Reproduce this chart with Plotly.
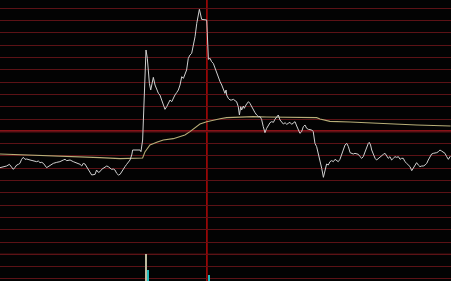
import plotly.graph_objects as go

# ---- data ----
prev_close = 10.00
grid_step = 0.0369          # price step between horizontal grid lines
cursor_minute = 110.1       # crosshair position (minutes since open)

minutes = [
    0.0, 1.8, 3.5, 5.0, 6.2, 7.1, 8.0, 8.9, 9.8, 10.6, 11.5, 12.4, 13.3, 14.2, 16.0, 17.7, 19.5, 20.4,
    21.3, 22.2, 23.1, 24.8, 25.7, 26.6, 28.4, 30.2, 31.9, 33.7, 34.6, 35.5, 37.3, 39.0, 40.8, 42.6,
    43.5, 44.3, 45.2, 46.1, 47.0, 47.9, 48.8, 50.6, 51.4, 52.3, 53.2, 54.1, 55.0, 55.9, 56.8, 57.6,
    58.5, 59.4, 60.3, 61.2, 62.1, 63.0, 63.9, 64.7, 65.6, 66.5, 67.4, 68.3, 69.2, 70.1, 70.6, 74.5,
    75.0, 75.9, 76.6, 77.2, 77.7,
    78.4, 78.9, 79.5, 80.2, 81.1, 81.6, 82.5, 83.4, 84.3, 85.1, 86.0, 86.9, 87.8, 88.7, 89.6, 90.5,
    91.4, 92.2, 93.1, 94.0, 94.9, 95.8, 96.7, 97.6, 98.4, 99.3, 100.2, 101.1, 102.0, 102.9, 103.8,
    104.7, 105.5, 106.1, 106.8, 107.3, 110.0, 110.3, 110.9, 111.8, 112.6, 113.5, 114.4, 115.3, 116.2,
    117.1, 118.0, 118.8, 119.7, 120.3, 120.6, 121.5, 122.4, 123.3, 124.2, 125.1, 125.9, 126.8, 127.4,
    128.1, 128.6, 129.5, 130.0, 130.9, 132.2, 133.0, 133.9, 134.8, 135.7, 136.6, 137.5, 138.4, 139.2,
    140.1, 141.0, 141.9, 142.8, 143.7, 144.6, 145.5, 146.3, 147.2, 148.1, 149.0, 149.9, 150.8, 151.7,
    152.6, 153.4, 154.3, 155.2, 156.1, 157.0, 157.9, 158.8, 159.6, 160.5, 161.4, 162.3, 163.2, 164.1,
    165.0, 165.9, 166.7, 167.6, 168.5, 169.4, 170.3, 171.2, 172.1, 172.9, 173.8, 174.7, 175.6, 176.5,
    177.4, 178.3, 179.2, 180.0, 180.9, 181.8, 182.7, 183.6, 184.5, 185.4, 186.3, 187.1, 188.0, 188.9,
    189.8, 190.7, 191.6, 192.5, 193.3, 194.2, 195.1, 196.0, 196.5, 197.2, 197.8, 198.7, 199.6, 200.4,
    201.3, 202.2, 203.1, 204.0, 204.9, 205.8, 206.6, 207.5, 208.4, 209.3, 210.2, 211.1, 212.0, 212.9,
    213.7, 214.6, 215.5, 216.4, 217.3, 218.2, 219.1, 220.0, 220.8, 221.7, 222.6, 223.5, 224.4, 225.3,
    226.2, 227.1, 227.9, 228.8, 229.7, 230.6, 231.5, 232.4, 233.3, 234.1, 235.0, 235.9, 236.8, 237.7,
    238.6, 239.5, 239.8,
]

price = [
    9.891, 9.894, 9.896, 9.901, 9.894, 9.886, 9.892, 9.899, 9.901, 9.904, 9.916, 9.922, 9.916, 9.917,
    9.914, 9.911, 9.909, 9.911, 9.906, 9.907, 9.904, 9.891, 9.894, 9.899, 9.904, 9.907, 9.909, 9.914,
    9.916, 9.912, 9.914, 9.909, 9.904, 9.901, 9.896, 9.904, 9.902, 9.894, 9.884, 9.874, 9.869, 9.871,
    9.884, 9.877, 9.879, 9.886, 9.889, 9.894, 9.896, 9.894, 9.889, 9.886, 9.887, 9.884, 9.874, 9.869,
    9.871, 9.879, 9.886, 9.894, 9.901, 9.906, 9.914, 9.929, 9.944, 9.944, 9.939, 9.974, 10.094, 10.214,
    10.244,
    10.219, 10.184, 10.144, 10.124, 10.154, 10.162, 10.139, 10.124, 10.114, 10.109, 10.094, 10.079,
    10.066, 10.074, 10.084, 10.094, 10.089, 10.099, 10.109, 10.116, 10.124, 10.139, 10.164, 10.159,
    10.169, 10.184, 10.219, 10.229, 10.234, 10.259, 10.284, 10.324, 10.354, 10.366, 10.349, 10.336,
    10.334, 10.294, 10.216, 10.219, 10.209, 10.204, 10.189, 10.179, 10.164, 10.149, 10.139, 10.129,
    10.114, 10.124, 10.109, 10.099, 10.094, 10.094, 10.096, 10.092, 10.089, 10.074, 10.049, 10.074,
    10.064, 10.076, 10.069, 10.079, 10.089, 10.084, 10.074, 10.064, 10.056, 10.049, 10.044, 10.044,
    10.036, 10.014, 9.996, 10.009, 10.019, 10.026, 10.029, 10.027, 10.036, 10.044, 10.049, 10.034,
    10.026, 10.022, 10.026, 10.021, 10.024, 10.027, 10.021, 10.024, 10.029, 10.016, 10.006, 9.994,
    9.999, 10.014, 10.019, 10.009, 10.006, 10.004, 10.004, 9.999, 9.964, 9.954, 9.934, 9.909, 9.889,
    9.862, 9.884, 9.902, 9.899, 9.909, 9.912, 9.909, 9.916, 9.912, 9.909, 9.916, 9.929, 9.944, 9.959,
    9.964, 9.954, 9.936, 9.934, 9.932, 9.934, 9.932, 9.931, 9.924, 9.919, 9.924, 9.939, 9.954, 9.964,
    9.967, 9.959, 9.944, 9.929, 9.919, 9.914, 9.919, 9.922, 9.926, 9.931, 9.934, 9.924, 9.919, 9.924,
    9.914, 9.919, 9.924, 9.922, 9.924, 9.916, 9.919, 9.919, 9.909, 9.904, 9.899, 9.894, 9.882, 9.889,
    9.899, 9.906, 9.899, 9.894, 9.896, 9.896, 9.899, 9.904, 9.914, 9.924, 9.932, 9.934, 9.934, 9.936,
    9.939, 9.944, 9.941, 9.936, 9.934, 9.924, 9.916, 9.924, 9.926,
]

avg_minutes = [0.0, 17.7, 35.5, 53.2, 63.9, 74.5, 75.9, 77.2, 79.8, 83.4, 86.9, 92.2, 95.8, 98.4,
               101.1, 103.8, 106.4, 110.0, 113.5, 117.1, 120.6, 124.2, 127.7, 134.8, 141.9, 150.8,
               159.6, 168.5, 170.3, 172.1, 175.6, 186.3, 204.0, 221.7, 239.8]
avg_price = [9.932, 9.929, 9.926, 9.921, 9.918, 9.918, 9.920, 9.939, 9.959, 9.967, 9.974, 9.978,
             9.984, 9.989, 9.999, 10.012, 10.022, 10.029, 10.034, 10.038, 10.041, 10.042, 10.044,
             10.044, 10.043, 10.042, 10.042, 10.041, 10.037, 10.034, 10.030, 10.028, 10.023,
             10.019, 10.016]

vol_minutes = [77.5, 78.9, 111.4]
volume = [275, 110, 60]
vol_colors = ["#bdbba0", "#22bcbc", "#22bcbc"]

# ---- figure ----
y_top = 10.394
y_bottom = 9.551

fig = go.Figure()

fig.add_trace(go.Bar(x=vol_minutes, y=volume, marker_color=vol_colors, marker_line_width=0,
                     width=0.5, yaxis="y2", showlegend=False))
fig.add_trace(go.Scatter(x=avg_minutes, y=avg_price, mode="lines",
                         line=dict(color="#b8ae78", width=1.1), showlegend=False))
fig.add_trace(go.Scatter(x=minutes, y=price, mode="lines",
                         line=dict(color="#d0d0d0", width=1), showlegend=False))

shapes = [
    dict(type="line", xref="paper", x0=0, x1=1, yref="y", y0=prev_close, y1=prev_close,
         line=dict(color="#b81820", width=2), layer="below"),
    dict(type="line", xref="paper", x0=0, x1=1, yref="y",
         y0=prev_close - 10 * grid_step, y1=prev_close - 10 * grid_step,
         line=dict(color="#8a1818", width=1.2), layer="below"),
    dict(type="line", xref="x", x0=cursor_minute, x1=cursor_minute, yref="paper", y0=0, y1=1,
         line=dict(color="#a80808", width=1.6), layer="below"),
]

fig.update_layout(
    width=451, height=281,
    margin=dict(l=0, r=0, t=0, b=0, pad=0),
    paper_bgcolor="#030303", plot_bgcolor="#030303",
    shapes=shapes,
    bargap=0,
    xaxis=dict(range=[0, 240], showgrid=False, zeroline=False, showticklabels=False,
               ticks="", showline=False, fixedrange=True),
    yaxis=dict(range=[y_bottom, y_top], tick0=prev_close, dtick=grid_step, showgrid=True,
               gridcolor="#5c1216", gridwidth=1, zeroline=False, showticklabels=False,
               ticks="", showline=False),
    yaxis2=dict(range=[0, 2810], overlaying="y", showgrid=False, zeroline=False,
                showticklabels=False, ticks="", showline=False),
)

fig.write_html("out.html")
